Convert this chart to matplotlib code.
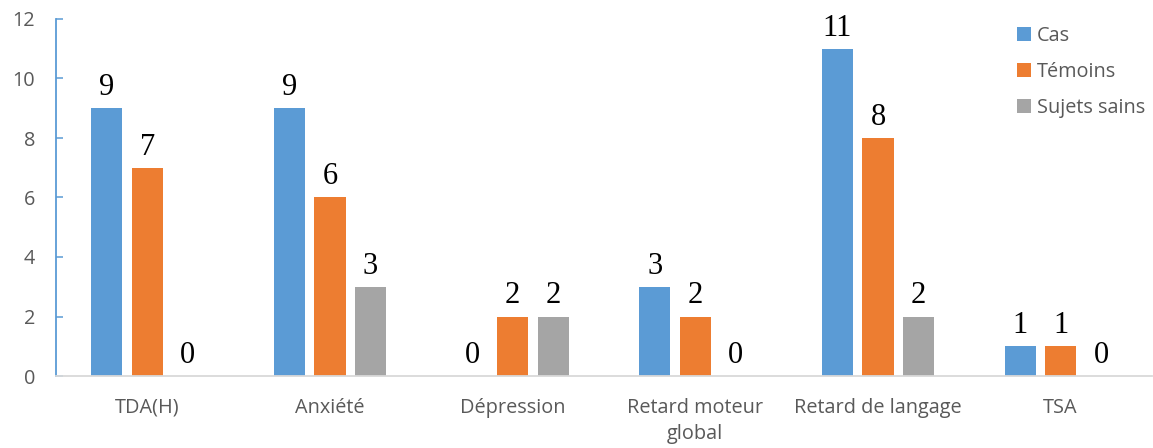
import matplotlib
matplotlib.use("Agg")
import matplotlib.pyplot as plt
from matplotlib.patches import Patch
import numpy as np

categories = ["TDA(H)", "Anxiété", "Dépression", "Retard moteur\nglobal",
              "Retard de langage", "TSA"]
series_names = ["Cas", "Témoins", "Sujets sains"]
cas = [9, 9, 0, 3, 11, 1]
temoins = [7, 6, 2, 2, 8, 1]
sujets_sains = [0, 3, 2, 0, 2, 0]
y_ticks = [0, 2, 4, 6, 8, 10, 12]

colors = ["#5B9BD5", "#ED7D31", "#A5A5A5"]
text_gray = "#595959"
sans = ["Open Sans", "DejaVu Sans"]
serif = ["Liberation Serif", "DejaVu Serif"]
fs = 14.3

fig = plt.figure(figsize=(11.53, 4.48), dpi=100)
ax = fig.add_axes([56 / 1153, 72 / 448, 1096 / 1153, 357 / 448])

x = np.arange(len(categories))
width = 0.17
step = 0.2217
for i, (vals, col) in enumerate(zip([cas, temoins, sujets_sains], colors)):
    pos = x + (i - 1) * step
    ax.bar(pos, vals, width=width, color=col, zorder=2)
    for px, v in zip(pos, vals):
        ax.annotate(f"{v}", (px, v), xytext=(0, 9.5), textcoords="offset points",
                    ha="center", va="baseline", fontsize=22, family=serif,
                    color="black")

ax.set_xlim(-0.5, len(categories) - 0.5)
ax.set_ylim(0, 12)
ax.set_yticks(y_ticks)
ax.set_yticklabels([str(t) for t in y_ticks], family=sans, fontsize=fs,
                   color=text_gray)
ax.set_xticks(x)
ax.set_xticklabels(categories, family=sans, fontsize=fs, color=text_gray,
                   linespacing=1.4)

ax.tick_params(axis="y", direction="in", length=5, width=1.1,
               color=colors[0], pad=15)
ax.tick_params(axis="x", length=0, pad=15.5)

for s in ["top", "right"]:
    ax.spines[s].set_visible(False)
ax.spines["left"].set_color(colors[0])
ax.spines["left"].set_linewidth(1.3)
ax.spines["bottom"].set_color("#D9D9D9")
ax.spines["bottom"].set_linewidth(1.3)

handles = [Patch(facecolor=c, edgecolor="none") for c in colors]
leg = ax.legend(handles, series_names, loc="upper left",
                bbox_to_anchor=(999 / 1153, 1 - 8 / 448),
                bbox_transform=fig.transFigure, frameon=False,
                prop={"family": sans, "size": fs},
                handlelength=0.72, handleheight=0.72, handletextpad=0.3,
                labelspacing=0.8, labelcolor=text_gray)

fig.savefig("out.png", dpi=100)
